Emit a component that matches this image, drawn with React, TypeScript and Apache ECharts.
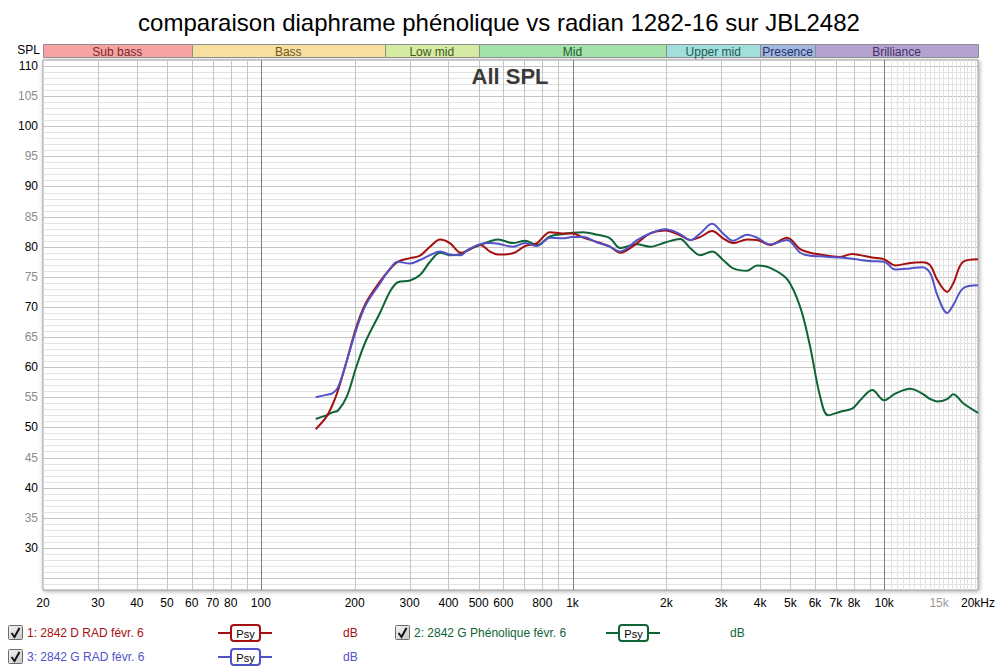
import React, { useEffect, useRef } from "react";
import * as echarts from "echarts";

const FONT = "'Liberation Sans', Arial, sans-serif";

// Frequencies (Hz) shared by the three measurements
const FREQ = [150,162,170,177,189,202,217,241,260,275,301,324,349,376,404,439,459,505,544,577,644,704,769,847,932,1000,1081,1199,1319,1421,1611,1774,1982,2214,2384,2567,2804,3042,3275,3633,3912,4306,4882,5375,5787,6232,6611,7224,7894,8375,9153,10000,10850,12120,13240,14050,14800,15930,16650,17930,20000];

// 1: 2842 D RAD (red)
const SPL_D_RAD = [49.7,51.7,53.8,56.2,61.2,66.5,70.6,74.2,76.3,77.5,78.1,78.5,80.0,81.2,80.6,79.0,79.3,80.3,79.2,78.7,78.9,80.1,80.6,82.4,82.2,82.2,81.5,80.8,80.0,79.0,80.6,82.2,82.7,81.9,81.1,81.6,82.6,81.4,80.6,81.2,81.1,80.3,81.5,79.6,79.0,78.7,78.5,78.3,78.8,78.6,78.2,77.9,76.9,77.3,77.4,76.9,74.5,72.5,73.9,77.5,77.9];
// 2: 2842 G Phénolique (green)
const SPL_G_PHEN = [51.4,52.0,52.5,52.8,55.2,59.9,64.3,69.0,72.6,74.1,74.4,75.3,77.5,79.0,78.6,78.8,79.4,80.3,80.9,81.2,80.6,81.0,80.3,81.7,82.1,82.3,82.4,82.0,81.4,79.8,80.4,80.0,80.7,81.3,79.8,78.6,79.2,77.8,76.4,76.0,76.9,76.5,74.6,70.0,63.4,55.1,52.0,52.6,53.1,54.5,56.2,54.5,55.6,56.4,55.6,54.7,54.3,54.7,55.5,54.0,52.4];
// 3: 2842 G RAD (blue)
const SPL_G_RAD = [55.0,55.4,55.7,56.7,61.2,66.1,70.3,73.9,76.4,77.5,77.2,77.8,78.6,79.2,78.7,78.6,79.4,80.4,80.6,80.5,80.0,80.6,80.1,81.5,81.4,81.6,81.6,80.7,80.0,79.2,81.1,82.2,82.9,82.1,81.1,82.2,83.8,82.2,81.0,82.0,81.5,80.4,81.1,79.0,78.5,78.4,78.3,78.2,78.0,77.8,77.6,77.5,76.2,76.4,76.6,75.6,72.0,69.0,70.3,73.1,73.6];

const SERIES_NAMES = ["1: 2842 D RAD févr. 6", "2: 2842 G Phénolique févr. 6", "3: 2842 G RAD févr. 6"];
const SERIES_COLORS = ["#a50f0f", "#0f6436", "#5252c8"];

// Axis ranges
const X_MIN = 20;
const X_MAX = 20000;
const Y_MIN = 23;
const Y_MAX = 111;

// X tick labels
const X_TICKS = [20,30,40,50,60,70,80,100,200,300,400,500,600,800,1000,2000,3000,4000,5000,6000,7000,8000,10000,15000,20000];
const X_TICK_LABELS = ["20","30","40","50","60","70","80","100","200","300","400","500","600","800","1k","2k","3k","4k","5k","6k","7k","8k","10k","15k","20kHz"];
const X_TICK_GREY = ["15k"];

// Vertical grid lines
const X_GRID_DECADE = [100, 1000, 10000];
const X_GRID_MAIN = [30,40,50,60,70,80,90,200,300,400,500,600,700,800,900,2000,3000,4000,5000,6000,7000,8000,9000];
const X_GRID_FINE = [10500,11000,11500,12000,12500,13000,13500,14000,14500,15000,15500,16000,16500,17000,17500,18000,18500,19000,19500];

// Frequency bands
const BAND_NAMES = ["Sub bass", "Bass", "Low mid", "Mid", "Upper mid", "Presence", "Brilliance"];
const BAND_EDGES = [20, 60, 250, 500, 2000, 4000, 6000, 20000];
const BAND_FILL = ["#f7a3a3", "#f8dfa0", "#d6eba2", "#a3e2ab", "#a3dfda", "#a3b7df", "#b5a3cf"];
const BAND_TEXT = ["#7a2a2a", "#6a5520", "#3f5a1c", "#1f5a2c", "#1d5a58", "#23336a", "#46306a"];

function buildOption() {
  const vGrid: number[][] = [];
  X_GRID_DECADE.forEach((f) => vGrid.push([f, Y_MIN, 0]));
  X_GRID_MAIN.forEach((f) => vGrid.push([f, Y_MIN, 1]));
  X_GRID_FINE.forEach((f) => vGrid.push([f, Y_MIN, 2]));
  const hGrid: number[][] = [];
  for (let v = Y_MIN + 1; v < Y_MAX; v++) hGrid.push([X_MIN, v, v % 5 === 0 ? 1 : 2]);
  const gridColors = ["#7c7c7c", "#c4c4c4", "#e2e2e2"];

  const lineSeries = [SPL_D_RAD, SPL_G_PHEN, SPL_G_RAD].map((arr, k) => ({
    type: "line",
    name: SERIES_NAMES[k],
    data: FREQ.map((f, i) => [f, arr[i]]),
    showSymbol: false,
    smooth: 0.35,
    lineStyle: { color: SERIES_COLORS[k], width: 2 },
    itemStyle: { color: SERIES_COLORS[k] },
    z: k === 1 ? 5 : k === 0 ? 6 : 7,
    silent: true,
  }));

  const legendGraphics: any[] = [];
  const legendPos = [
    { cx: 8, tx: 27, sx: 218, dx: 343, y: 633 },
    { cx: 395, tx: 414, sx: 606, dx: 730, y: 633 },
    { cx: 8, tx: 27, sx: 218, dx: 343, y: 657 },
  ];
  legendPos.forEach((p, k) => {
    const c = SERIES_COLORS[k];
    legendGraphics.push(
      {
        type: "rect",
        shape: { x: p.cx + 0.5, y: p.y - 7.5, width: 14, height: 14, r: 1 },
        style: {
          fill: new echarts.graphic.LinearGradient(0, 0, 1, 1, [
            { offset: 0, color: "#f4f4f4" },
            { offset: 1, color: "#c8c8c8" },
          ]),
          stroke: "#6e6e6e",
          lineWidth: 1,
        },
      },
      {
        type: "polyline",
        shape: { points: [[p.cx + 3.5, p.y], [p.cx + 6.5, p.y + 4], [p.cx + 11.5, p.y - 5]] },
        style: { stroke: "#111", lineWidth: 2, fill: "none" },
      },
      {
        type: "text",
        x: p.tx,
        y: p.y,
        style: { text: SERIES_NAMES[k], fill: c, font: `12px ${FONT}`, textVerticalAlign: "middle" },
      },
      {
        type: "line",
        shape: { x1: p.sx, y1: p.y, x2: p.sx + 54, y2: p.y },
        style: { stroke: c, lineWidth: 2 },
      },
      {
        type: "rect",
        shape: { x: p.sx + 13, y: p.y - 8, width: 29, height: 16, r: 3 },
        style: { fill: "#fff", stroke: c, lineWidth: 2 },
      },
      {
        type: "text",
        x: p.sx + 27.5,
        y: p.y + 1,
        style: { text: "Psy", fill: "#000", font: `11px ${FONT}`, textAlign: "center", textVerticalAlign: "middle" },
      },
      {
        type: "text",
        x: p.dx,
        y: p.y,
        style: { text: "dB", fill: c, font: `12px ${FONT}`, textVerticalAlign: "middle" },
      }
    );
  });

  return {
    animation: false,
    backgroundColor: "#ffffff",
    textStyle: { fontFamily: FONT },
    grid: {
      left: 43,
      right: 22,
      top: 60,
      bottom: 82,
      show: true,
      backgroundColor: "#ffffff",
      borderColor: "#9a9a9a",
      borderWidth: 1,
      shadowColor: "rgba(0,0,0,0.35)",
      shadowBlur: 4,
      shadowOffsetX: 1,
      shadowOffsetY: 1,
    },
    xAxis: {
      type: "log",
      logBase: 10,
      min: X_MIN,
      max: X_MAX,
      axisLine: { show: false },
      axisTick: { show: false },
      axisLabel: { show: false },
      splitLine: { show: false },
    },
    yAxis: {
      type: "value",
      min: Y_MIN,
      max: Y_MAX,
      interval: 1,
      axisLine: { show: false },
      axisTick: { show: false },
      splitLine: { show: false },
      axisLabel: {
        interval: 0,
        margin: 5,
        fontSize: 12,
        fontFamily: FONT,
        formatter: (v: number) =>
          v % 5 === 0 && v >= 30 && v <= 110 ? (v % 10 === 0 ? `{b|${v}}` : `{g|${v}}`) : "",
        rich: {
          b: { color: "#000", fontSize: 12, fontFamily: FONT },
          g: { color: "#8c8c8c", fontSize: 12, fontFamily: FONT },
        },
      },
    },
    graphic: [
      {
        type: "text",
        x: 499,
        y: 22,
        style: {
          text: "comparaison diaphrame phénolique vs radian 1282-16 sur JBL2482",
          fill: "#000",
          font: `24px ${FONT}`,
          textAlign: "center",
          textVerticalAlign: "middle",
        },
      },
      {
        type: "text",
        x: 40,
        y: 50,
        style: { text: "SPL", fill: "#000", font: `12px ${FONT}`, textAlign: "right", textVerticalAlign: "middle" },
      },
      {
        type: "text",
        x: 510,
        y: 76,
        z: 10,
        style: { text: "All SPL", fill: "#3a3a3a", font: `bold 22px ${FONT}`, textAlign: "center", textVerticalAlign: "middle" },
      },
      ...legendGraphics,
    ],
    series: [
      {
        type: "custom",
        name: "hgrid",
        silent: true,
        z: 1,
        encode: { x: 0, y: 1 },
        data: hGrid,
        renderItem: (params: any, api: any) => {
          const cs = params.coordSys;
          const y = Math.round(api.coord([api.value(0), api.value(1)])[1]) + 0.5;
          return {
            type: "line",
            shape: { x1: cs.x, y1: y, x2: cs.x + cs.width, y2: y },
            style: { stroke: gridColors[api.value(2)], lineWidth: 1 },
          };
        },
      },
      {
        type: "custom",
        name: "vgrid",
        silent: true,
        z: 2,
        encode: { x: 0, y: 1 },
        data: vGrid,
        renderItem: (params: any, api: any) => {
          const cs = params.coordSys;
          const x = Math.round(api.coord([api.value(0), api.value(1)])[0]) + 0.5;
          return {
            type: "line",
            z2: 2 - api.value(2),
            shape: { x1: x, y1: cs.y, x2: x, y2: cs.y + cs.height },
            style: { stroke: gridColors[api.value(2)], lineWidth: 1 },
          };
        },
      },
      {
        type: "custom",
        name: "xticks",
        silent: true,
        z: 3,
        clip: false,
        encode: { x: 0, y: 1 },
        data: X_TICKS.map((f, i) => [f, Y_MIN, i]),
        renderItem: (params: any, api: any) => {
          const pt = api.coord([api.value(0), api.value(1)]);
          const label = X_TICK_LABELS[api.value(2)];
          return {
            type: "text",
            x: pt[0],
            y: pt[1] + 13,
            style: {
              text: label,
              fill: X_TICK_GREY.includes(label) ? "#9a9a9a" : "#000",
              font: `12px ${FONT}`,
              textAlign: "center",
              textVerticalAlign: "middle",
            },
          };
        },
      },
      {
        type: "custom",
        name: "bands",
        silent: true,
        z: 3,
        clip: false,
        encode: { x: [0, 1], y: 2 },
        data: BAND_NAMES.map((n, i) => [BAND_EDGES[i], BAND_EDGES[i + 1], Y_MAX, i]),
        renderItem: (params: any, api: any) => {
          const cs = params.coordSys;
          const i = api.value(3);
          const x1 = api.coord([api.value(0), api.value(2)])[0];
          const x2 = api.coord([api.value(1), api.value(2)])[0];
          const top = cs.y - 16;
          return {
            type: "group",
            children: [
              {
                type: "rect",
                shape: { x: Math.round(x1) + 0.5, y: top + 0.5, width: Math.round(x2) - Math.round(x1), height: 13 },
                style: { fill: BAND_FILL[i], stroke: "#8e8e8e", lineWidth: 1 },
              },
              {
                type: "text",
                x: (x1 + x2) / 2,
                y: top + 7.5,
                style: {
                  text: BAND_NAMES[i],
                  fill: BAND_TEXT[i],
                  font: `12px ${FONT}`,
                  textAlign: "center",
                  textVerticalAlign: "middle",
                },
              },
            ],
          };
        },
      },
      ...lineSeries,
    ],
  };
}

export default function App() {
  const ref = useRef<HTMLDivElement>(null);
  useEffect(() => {
    if (!ref.current) return;
    const chart = echarts.init(ref.current, null, { renderer: "svg" });
    chart.setOption(buildOption() as any);
    return () => chart.dispose();
  }, []);
  return (
    <div
      ref={ref}
      style={{ position: "fixed", left: 0, top: 0, width: 1000, height: 672, background: "#fff" }}
    />
  );
}
